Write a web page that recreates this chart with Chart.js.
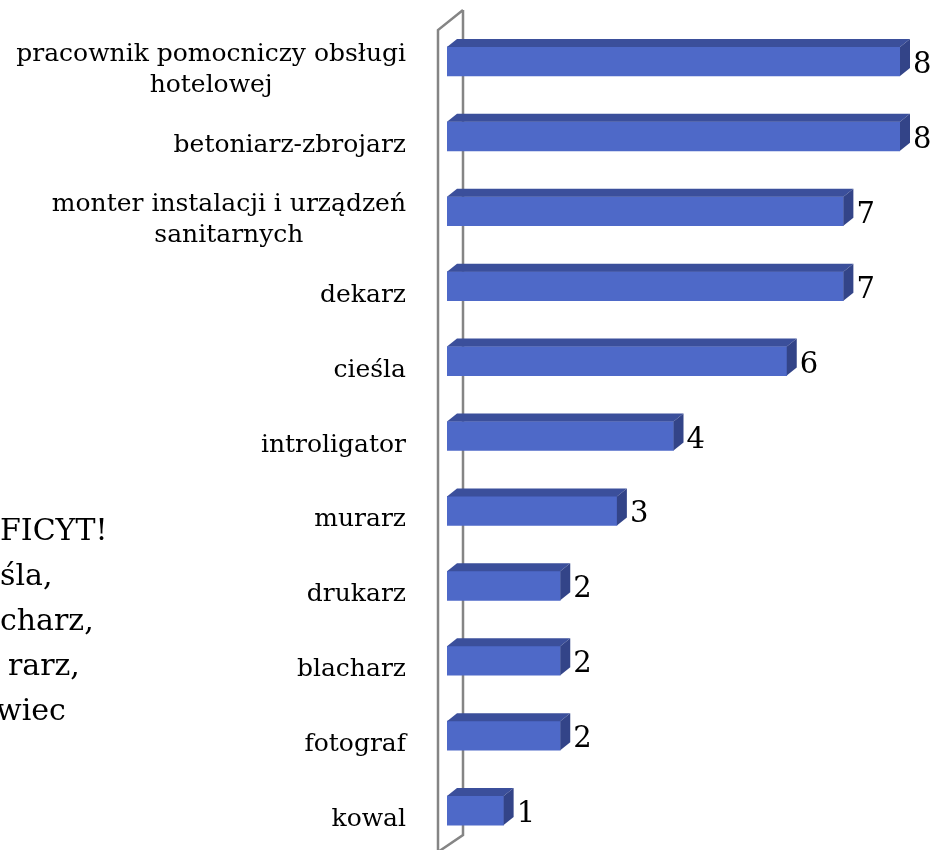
<!DOCTYPE html>
<html>
<head>
<meta charset="utf-8">
<script src="https://cdn.jsdelivr.net/npm/chart.js@4"></script>
<style>
  body { margin: 0; background: #fff; }
  canvas { display: block; }
</style>
</head>
<body>
<canvas id="chart" width="935" height="850"></canvas>
<script>
const categories = [
  ['pracownik pomocniczy obsługi', 'hotelowej'],
  'betoniarz-zbrojarz',
  ['monter instalacji i urządzeń', 'sanitarnych'],
  'dekarz',
  'cieśla',
  'introligator',
  'murarz',
  'drukarz',
  'blacharz',
  'fotograf',
  'kowal'
];
const values = [8, 8, 7, 7, 6, 4, 3, 2, 2, 2, 1];
const noteLines = ['FICYT!', 'śla,', 'charz,', 'rarz,', 'wiec'];

const FRONT = '#4e69c8';
const TOP = '#3b4f9b';
const SIDE = '#334488';
const DX = 10, DY = -8;

// 3D faces, wall, labels drawn on top of the chart.js bars
const depthPlugin = {
  id: 'depth',
  beforeDatasetsDraw(chart) {
    const { ctx, chartArea } = chart;
    const back = chartArea.left + 16;
    const front = chartArea.left - 9;
    ctx.save();
    ctx.strokeStyle = '#858585';
    ctx.lineWidth = 2.5;
    ctx.beginPath();
    ctx.moveTo(back, 10);
    ctx.lineTo(back, chart.height - 15);
    ctx.lineTo(front, chart.height + 2);
    ctx.moveTo(back, 10);
    ctx.lineTo(front, 30);
    ctx.lineTo(front, chart.height + 2);
    ctx.stroke();
    ctx.restore();
  },
  afterDatasetsDraw(chart) {
    const { ctx } = chart;
    const meta = chart.getDatasetMeta(0);
    const yScale = chart.scales.y;
    ctx.save();
    meta.data.forEach((bar, i) => {
      const { x, y, base, height } = bar.getProps(['x', 'y', 'base', 'height'], true);
      const top = y - height / 2;
      const bottom = y + height / 2;
      ctx.fillStyle = TOP;
      ctx.beginPath();
      ctx.moveTo(base, top);
      ctx.lineTo(base + DX, top + DY);
      ctx.lineTo(x + DX, top + DY);
      ctx.lineTo(x, top);
      ctx.closePath();
      ctx.fill();
      ctx.fillStyle = SIDE;
      ctx.beginPath();
      ctx.moveTo(x, top);
      ctx.lineTo(x + DX, top + DY);
      ctx.lineTo(x + DX, bottom + DY);
      ctx.lineTo(x, bottom);
      ctx.closePath();
      ctx.fill();

      // value label
      ctx.fillStyle = '#000';
      ctx.font = '29px "DejaVu Serif"';
      ctx.textAlign = 'left';
      ctx.textBaseline = 'middle';
      ctx.fillText(String(values[i]), x + 13, y + 4);

      // category label, lines centred on each other, block right-aligned
      const lines = Array.isArray(categories[i]) ? categories[i] : [categories[i]];
      ctx.font = '25px "DejaVu Serif"';
      const w = Math.max(...lines.map(l => ctx.measureText(l).width));
      const cx = 406 - w / 2;
      const lh = 31;
      const cy = yScale.getPixelForValue(i) + 9;
      ctx.textAlign = 'center';
      lines.forEach((l, k) => {
        ctx.fillText(l, cx, cy + (k - (lines.length - 1) / 2) * lh);
      });
    });
    ctx.restore();
  },
  afterDraw(chart) {
    const { ctx } = chart;
    const xs = [0, 0, 0, 8, -4];
    ctx.save();
    ctx.fillStyle = '#000';
    ctx.font = '30px "DejaVu Serif"';
    ctx.textAlign = 'left';
    ctx.textBaseline = 'middle';
    noteLines.forEach((t, i) => ctx.fillText(t, xs[i], 532 + i * 45));
    ctx.restore();
  }
};

new Chart(document.getElementById('chart'), {
  type: 'bar',
  data: {
    labels: categories,
    datasets: [{
      data: values,
      backgroundColor: FRONT,
      borderWidth: 0,
      barThickness: 29
    }]
  },
  options: {
    indexAxis: 'y',
    responsive: false,
    animation: false,
    layout: { padding: { left: 447, right: 35, top: 24, bottom: 2 } },
    plugins: { legend: { display: false }, tooltip: { enabled: false } },
    scales: {
      x: { display: false, min: 0, max: 8 },
      y: { display: false }
    }
  },
  plugins: [depthPlugin]
});
</script>
</body>
</html>
